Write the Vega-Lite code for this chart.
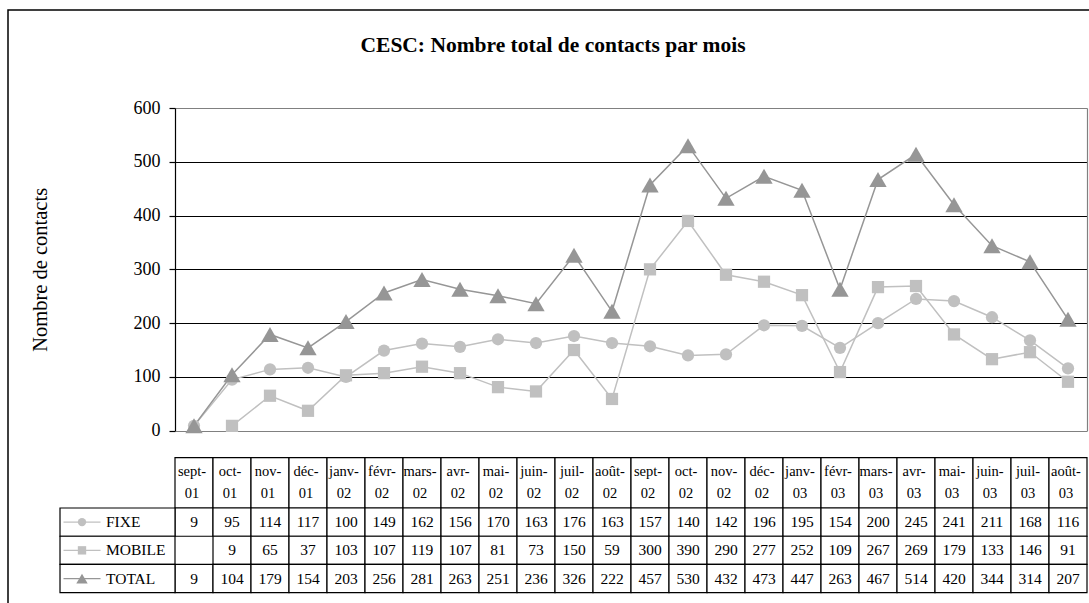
{
  "$schema": "https://vega.github.io/schema/vega-lite/v6.json",
  "width": 912,
  "height": 485,
  "autosize": {"type": "none"},
  "padding": {"left": 175, "top": 108, "right": 2, "bottom": 10},
  "background": "white",
  "config": {"view": {"stroke": null}, "font": "Liberation Serif"},
  "title": {"text": "CESC: Nombre total de contacts par mois", "font": "Liberation Serif", "fontSize": 21.5, "fontWeight": "bold", "color": "black", "anchor": "middle", "frame": "group", "dx": -78, "baseline": "alphabetic", "offset": -64.5},
  "datasets": {
    "vals": [
      {"m": "sept-01", "s": "FIXE", "v": 9}, {"m": "oct-01", "s": "FIXE", "v": 95}, {"m": "nov-01", "s": "FIXE", "v": 114}, {"m": "déc-01", "s": "FIXE", "v": 117},
      {"m": "janv-02", "s": "FIXE", "v": 100}, {"m": "févr-02", "s": "FIXE", "v": 149}, {"m": "mars-02", "s": "FIXE", "v": 162}, {"m": "avr-02", "s": "FIXE", "v": 156},
      {"m": "mai-02", "s": "FIXE", "v": 170}, {"m": "juin-02", "s": "FIXE", "v": 163}, {"m": "juil-02", "s": "FIXE", "v": 176}, {"m": "août-02", "s": "FIXE", "v": 163},
      {"m": "sept-02", "s": "FIXE", "v": 157}, {"m": "oct-02", "s": "FIXE", "v": 140}, {"m": "nov-02", "s": "FIXE", "v": 142}, {"m": "déc-02", "s": "FIXE", "v": 196},
      {"m": "janv-03", "s": "FIXE", "v": 195}, {"m": "févr-03", "s": "FIXE", "v": 154}, {"m": "mars-03", "s": "FIXE", "v": 200}, {"m": "avr-03", "s": "FIXE", "v": 245},
      {"m": "mai-03", "s": "FIXE", "v": 241}, {"m": "juin-03", "s": "FIXE", "v": 211}, {"m": "juil-03", "s": "FIXE", "v": 168}, {"m": "août-03", "s": "FIXE", "v": 116},
      {"m": "oct-01", "s": "MOBILE", "v": 9}, {"m": "nov-01", "s": "MOBILE", "v": 65}, {"m": "déc-01", "s": "MOBILE", "v": 37},
      {"m": "janv-02", "s": "MOBILE", "v": 103}, {"m": "févr-02", "s": "MOBILE", "v": 107}, {"m": "mars-02", "s": "MOBILE", "v": 119}, {"m": "avr-02", "s": "MOBILE", "v": 107},
      {"m": "mai-02", "s": "MOBILE", "v": 81}, {"m": "juin-02", "s": "MOBILE", "v": 73}, {"m": "juil-02", "s": "MOBILE", "v": 150}, {"m": "août-02", "s": "MOBILE", "v": 59},
      {"m": "sept-02", "s": "MOBILE", "v": 300}, {"m": "oct-02", "s": "MOBILE", "v": 390}, {"m": "nov-02", "s": "MOBILE", "v": 290}, {"m": "déc-02", "s": "MOBILE", "v": 277},
      {"m": "janv-03", "s": "MOBILE", "v": 252}, {"m": "févr-03", "s": "MOBILE", "v": 109}, {"m": "mars-03", "s": "MOBILE", "v": 267}, {"m": "avr-03", "s": "MOBILE", "v": 269},
      {"m": "mai-03", "s": "MOBILE", "v": 179}, {"m": "juin-03", "s": "MOBILE", "v": 133}, {"m": "juil-03", "s": "MOBILE", "v": 146}, {"m": "août-03", "s": "MOBILE", "v": 91},
      {"m": "sept-01", "s": "TOTAL", "v": 9}, {"m": "oct-01", "s": "TOTAL", "v": 104}, {"m": "nov-01", "s": "TOTAL", "v": 179}, {"m": "déc-01", "s": "TOTAL", "v": 154},
      {"m": "janv-02", "s": "TOTAL", "v": 203}, {"m": "févr-02", "s": "TOTAL", "v": 256}, {"m": "mars-02", "s": "TOTAL", "v": 281}, {"m": "avr-02", "s": "TOTAL", "v": 263},
      {"m": "mai-02", "s": "TOTAL", "v": 251}, {"m": "juin-02", "s": "TOTAL", "v": 236}, {"m": "juil-02", "s": "TOTAL", "v": 326}, {"m": "août-02", "s": "TOTAL", "v": 222},
      {"m": "sept-02", "s": "TOTAL", "v": 457}, {"m": "oct-02", "s": "TOTAL", "v": 530}, {"m": "nov-02", "s": "TOTAL", "v": 432}, {"m": "déc-02", "s": "TOTAL", "v": 473},
      {"m": "janv-03", "s": "TOTAL", "v": 447}, {"m": "févr-03", "s": "TOTAL", "v": 263}, {"m": "mars-03", "s": "TOTAL", "v": 467}, {"m": "avr-03", "s": "TOTAL", "v": 514},
      {"m": "mai-03", "s": "TOTAL", "v": 420}, {"m": "juin-03", "s": "TOTAL", "v": 344}, {"m": "juil-03", "s": "TOTAL", "v": 314}, {"m": "août-03", "s": "TOTAL", "v": 207}
    ],
    "months": [
      {"m": "sept-01", "a": "sept-", "b": "01", "r": "hdr"}, {"m": "oct-01", "a": "oct-", "b": "01", "r": "hdr"}, {"m": "nov-01", "a": "nov-", "b": "01", "r": "hdr"}, {"m": "déc-01", "a": "déc-", "b": "01", "r": "hdr"},
      {"m": "janv-02", "a": "janv-", "b": "02", "r": "hdr"}, {"m": "févr-02", "a": "févr-", "b": "02", "r": "hdr"}, {"m": "mars-02", "a": "mars-", "b": "02", "r": "hdr"}, {"m": "avr-02", "a": "avr-", "b": "02", "r": "hdr"},
      {"m": "mai-02", "a": "mai-", "b": "02", "r": "hdr"}, {"m": "juin-02", "a": "juin-", "b": "02", "r": "hdr"}, {"m": "juil-02", "a": "juil-", "b": "02", "r": "hdr"}, {"m": "août-02", "a": "août-", "b": "02", "r": "hdr"},
      {"m": "sept-02", "a": "sept-", "b": "02", "r": "hdr"}, {"m": "oct-02", "a": "oct-", "b": "02", "r": "hdr"}, {"m": "nov-02", "a": "nov-", "b": "02", "r": "hdr"}, {"m": "déc-02", "a": "déc-", "b": "02", "r": "hdr"},
      {"m": "janv-03", "a": "janv-", "b": "03", "r": "hdr"}, {"m": "févr-03", "a": "févr-", "b": "03", "r": "hdr"}, {"m": "mars-03", "a": "mars-", "b": "03", "r": "hdr"}, {"m": "avr-03", "a": "avr-", "b": "03", "r": "hdr"},
      {"m": "mai-03", "a": "mai-", "b": "03", "r": "hdr"}, {"m": "juin-03", "a": "juin-", "b": "03", "r": "hdr"}, {"m": "juil-03", "a": "juil-", "b": "03", "r": "hdr"}, {"m": "août-03", "a": "août-", "b": "03", "r": "hdr"}
    ],
    "rows": [{"s": "FIXE", "c": "lbl"}, {"s": "MOBILE", "c": "lbl"}, {"s": "TOTAL", "c": "lbl"}],
    "frame": [{"f": "frame"}]
  },
  "layer": [
    {
      "data": {"name": "frame"},
      "mark": {"type": "rect", "filled": false, "stroke": "black", "strokeWidth": 1.5},
      "encoding": {
        "x": {"field": "f", "type": "nominal", "scale": {"type": "band", "domain": ["frame"], "range": [-167, 1100], "paddingInner": 0, "paddingOuter": 0}, "axis": null},
        "y": {"field": "f", "type": "nominal", "scale": {"type": "band", "domain": ["frame"], "range": [-98, 700], "paddingInner": 0, "paddingOuter": 0}, "axis": null}
      }
    },
    {
      "data": {"name": "vals"},
      "layer": [
        {
          "mark": {"type": "line", "strokeWidth": 1.5},
          "encoding": {
            "x": {"field": "m", "type": "nominal", "sort": ["sept-01","oct-01","nov-01","déc-01","janv-02","févr-02","mars-02","avr-02","mai-02","juin-02","juil-02","août-02","sept-02","oct-02","nov-02","déc-02","janv-03","févr-03","mars-03","avr-03","mai-03","juin-03","juil-03","août-03"], "scale": {"type": "band", "range": [0, 912], "paddingInner": 0, "paddingOuter": 0}, "axis": null},
            "y": {"field": "v", "type": "quantitative", "scale": {"domain": [0, 600], "range": [322.7, 0], "nice": false},
              "axis": {"orient": "left", "values": [0, 100, 200, 300, 400, 500, 600], "grid": true,
                "gridColor": {"condition": {"test": "datum.value == 0 || datum.value == 600", "value": "#808080"}, "value": "black"},
                "gridWidth": 1.2, "domainColor": "black", "domainWidth": 1.2, "tickColor": "black", "tickSize": 6, "tickWidth": 1.2,
                "labelFont": "Liberation Serif", "labelFontSize": 18, "labelColor": "black", "labelPadding": 9,
                "title": "Nombre de contacts", "titleFont": "Liberation Serif", "titleFontSize": 20.5, "titleFontWeight": "normal", "titleColor": "black",
                "titleX": -135, "titleY": 161.35, "titleAngle": -90, "titleAlign": "center", "titleBaseline": "middle"}},
            "color": {"field": "s", "type": "nominal", "scale": {"domain": ["FIXE", "MOBILE", "TOTAL"], "range": ["#c0c0c0", "#c0c0c0", "#969696"]}, "legend": null}
          }
        },
        {
          "mark": {"type": "point", "filled": true, "opacity": 1},
          "encoding": {
            "x": {"field": "m", "type": "nominal", "sort": ["sept-01","oct-01","nov-01","déc-01","janv-02","févr-02","mars-02","avr-02","mai-02","juin-02","juil-02","août-02","sept-02","oct-02","nov-02","déc-02","janv-03","févr-03","mars-03","avr-03","mai-03","juin-03","juil-03","août-03"], "axis": null},
            "y": {"field": "v", "type": "quantitative", "axis": {"orient": "right", "labels": false, "ticks": false, "grid": false, "domainColor": "#808080", "domainWidth": 1.2, "title": null}},
            "color": {"field": "s", "type": "nominal", "legend": null},
            "shape": {"field": "s", "type": "nominal", "scale": {"domain": ["FIXE", "MOBILE", "TOTAL"], "range": ["circle", "square", "triangle-up"]}, "legend": null},
            "size": {"field": "s", "type": "nominal", "scale": {"type": "ordinal", "domain": ["FIXE", "MOBILE", "TOTAL"], "range": [150, 150, 300]}, "legend": null}
          }
        }
      ],
      "resolve": {"axis": {"y": "independent"}}
    },
    {
      "data": {"name": "months"},
      "encoding": {
        "x": {"field": "m", "type": "nominal", "scale": {"type": "band", "domain": ["sept-01","oct-01","nov-01","déc-01","janv-02","févr-02","mars-02","avr-02","mai-02","juin-02","juil-02","août-02","sept-02","oct-02","nov-02","déc-02","janv-03","févr-03","mars-03","avr-03","mai-03","juin-03","juil-03","août-03"], "range": [0, 912], "paddingInner": 0, "paddingOuter": 0}, "axis": null},
        "y": {"field": "r", "type": "nominal", "scale": {"type": "band", "domain": ["hdr"], "range": [349.7, 400], "paddingInner": 0, "paddingOuter": 0}, "axis": null}
      },
      "layer": [
        {"mark": {"type": "rect", "fill": "white", "stroke": "black", "strokeWidth": 1.2}},
        {"mark": {"type": "text", "font": "Liberation Serif", "fontSize": 14.5, "color": "black", "dy": -11, "dx": -2}, "encoding": {"text": {"field": "a"}}},
        {"mark": {"type": "text", "font": "Liberation Serif", "fontSize": 14.5, "color": "black", "dy": 11, "dx": -2}, "encoding": {"text": {"field": "b"}}}
      ]
    },
    {
      "data": {"name": "vals"},
      "encoding": {
        "x": {"field": "m", "type": "nominal", "scale": {"type": "band", "domain": ["sept-01","oct-01","nov-01","déc-01","janv-02","févr-02","mars-02","avr-02","mai-02","juin-02","juil-02","août-02","sept-02","oct-02","nov-02","déc-02","janv-03","févr-03","mars-03","avr-03","mai-03","juin-03","juil-03","août-03"], "range": [0, 912], "paddingInner": 0, "paddingOuter": 0}, "axis": null},
        "y": {"field": "s", "type": "nominal", "scale": {"type": "band", "domain": ["FIXE", "MOBILE", "TOTAL"], "range": [400, 484.7], "paddingInner": 0, "paddingOuter": 0}, "axis": null}
      },
      "layer": [
        {"mark": {"type": "rect", "fill": "white", "stroke": "black", "strokeWidth": 1.2}},
        {"mark": {"type": "text", "font": "Liberation Serif", "fontSize": 15.5, "color": "black"}, "encoding": {"text": {"field": "v"}}}
      ]
    },
    {
      "data": {"name": "rows"},
      "encoding": {
        "x": {"field": "c", "type": "nominal", "scale": {"type": "band", "domain": ["lbl"], "range": [-115, 0], "paddingInner": 0, "paddingOuter": 0}, "axis": null},
        "y": {"field": "s", "type": "nominal", "scale": {"type": "band", "domain": ["FIXE", "MOBILE", "TOTAL"], "range": [400, 484.7], "paddingInner": 0, "paddingOuter": 0}, "axis": null}
      },
      "layer": [
        {"mark": {"type": "rect", "fill": "white", "stroke": "black", "strokeWidth": 1.2}},
        {"mark": {"type": "text", "font": "Liberation Serif", "fontSize": 15.5, "color": "black", "align": "left", "dx": -11.5}, "encoding": {"text": {"field": "s"}}},
        {"mark": {"type": "point", "shape": "M-1,0L1,0", "size": 1369, "filled": false, "strokeWidth": 1.2, "opacity": 1, "xOffset": -35.5},
          "encoding": {"color": {"field": "s", "type": "nominal", "legend": null}}},
        {"mark": {"type": "point", "filled": true, "opacity": 1, "xOffset": -35.5},
          "encoding": {
            "color": {"field": "s", "type": "nominal", "legend": null},
            "shape": {"field": "s", "type": "nominal", "legend": null},
            "size": {"field": "s", "type": "nominal", "scale": {"type": "ordinal", "domain": ["FIXE", "MOBILE", "TOTAL"], "range": [70, 70, 130]}, "legend": null}
          }}
      ]
    }
  ],
  "resolve": {"scale": {"x": "independent", "y": "independent", "size": "independent"}}
}
